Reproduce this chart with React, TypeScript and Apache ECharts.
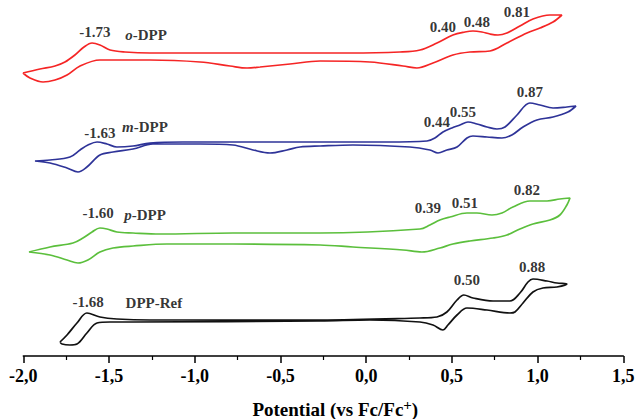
import React, { useEffect, useRef } from "react";
import * as echarts from "echarts";

// Potential (V vs Fc/Fc+) and offset current (a.u.) traced along each closed CV loop
const oDppPotential = [-2.002, -1.903, -1.815, -1.757, -1.699, -1.646, -1.599, -1.553, -1.494, -1.407, -1.261, -0.969, -0.678, -0.386, -0.094, 0.197, 0.314, 0.413, 0.506, 0.576, 0.623, 0.675, 0.722, 0.769, 0.821, 0.897, 0.973, 1.072, 1.142,
  1.09, 1.014, 0.938, 0.821, 0.722, 0.605, 0.506, 0.39, 0.296, 0.215, 0.022, -0.269, -0.444, -0.619, -0.695, -0.794, -0.969, -1.261, -1.553, -1.669, -1.745, -1.815, -1.885, -1.961, -2.002];
const oDppCurrent = [28.3, 28.7, 29.0, 29.4, 30.1, 30.9, 31.3, 31.1, 30.6, 30.4, 30.3, 30.3, 30.3, 30.3, 30.3, 30.4, 30.6, 31.3, 32.1, 32.4, 32.5, 32.4, 32.2, 32.1, 32.3, 33.0, 33.7, 34.1, 34.1,
  33.4, 32.8, 32.3, 31.3, 30.5, 30.4, 30.1, 29.3, 28.8, 29.0, 29.4, 29.5, 29.2, 28.9, 28.8, 29.0, 29.4, 29.6, 29.6, 29.0, 28.1, 27.6, 27.4, 27.8, 28.3];

const mDppPotential = [-1.932, -1.844, -1.728, -1.669, -1.623, -1.57, -1.512, -1.454, -1.36, -1.261, -1.069, -0.678, -0.269, 0.121, 0.355, 0.401, 0.448, 0.5, 0.547, 0.594, 0.646, 0.705, 0.763, 0.81, 0.88, 0.955, 1.014, 1.09, 1.171, 1.224,
  1.177, 1.09, 0.996, 0.915, 0.85, 0.792, 0.705, 0.623, 0.588, 0.53, 0.471, 0.419, 0.372, 0.255, -0.077, -0.269, -0.386, -0.462, -0.561, -0.66, -0.777, -0.969, -1.244, -1.36, -1.477, -1.553, -1.629, -1.681, -1.745, -1.844, -1.932];
const mDppCurrent = [19.5, 19.6, 19.9, 20.6, 21.1, 21.4, 21.2, 20.9, 21.0, 21.3, 21.4, 21.4, 21.4, 21.4, 21.5, 21.8, 22.4, 22.8, 23.1, 23.4, 23.2, 22.9, 22.7, 22.9, 24.1, 25.3, 25.1, 24.8, 24.9, 25.0,
  24.4, 23.9, 23.6, 22.9, 22.1, 21.8, 21.9, 22.0, 21.8, 20.9, 20.6, 20.3, 20.6, 20.9, 21.1, 21.0, 20.9, 20.6, 20.3, 20.6, 21.1, 21.2, 21.2, 20.7, 20.4, 20.1, 18.9, 18.4, 18.8, 19.3, 19.5];

const pDppPotential = [-1.967, -1.844, -1.71, -1.652, -1.599, -1.553, -1.512, -1.454, -1.36, -1.203, -0.777, -0.269, 0.314, 0.372, 0.43, 0.489, 0.588, 0.646, 0.734, 0.792, 0.856, 0.955, 1.055, 1.13, 1.189,
  1.171, 1.13, 1.072, 0.973, 0.897, 0.821, 0.74, 0.605, 0.506, 0.43, 0.325, 0.215, -0.077, -0.269, -0.777, -1.162, -1.36, -1.477, -1.553, -1.623, -1.681, -1.745, -1.844, -1.967];
const pDppCurrent = [10.4, 10.9, 11.3, 11.8, 12.4, 12.8, 12.7, 12.4, 12.3, 12.2, 12.3, 12.3, 12.7, 13.1, 13.6, 13.9, 14.3, 14.3, 14.1, 14.3, 14.9, 15.5, 15.5, 15.7, 15.8,
  15.1, 14.1, 13.6, 13.2, 12.7, 12.1, 11.8, 11.5, 11.2, 10.8, 10.4, 10.6, 10.9, 11.1, 11.2, 11.2, 11.0, 10.8, 10.4, 9.6, 9.3, 9.6, 10.1, 10.4];

const refPotential = [-1.786, -1.745, -1.687, -1.629, -1.553, -1.454, -1.261, -0.269, 0.314, 0.413, 0.471, 0.53, 0.57, 0.623, 0.74, 0.839, 0.897, 0.944, 0.973, 1.055, 1.113, 1.171,
  1.113, 1.031, 0.973, 0.915, 0.868, 0.839, 0.705, 0.588, 0.53, 0.477, 0.448, 0.39, 0.314, 0.022, -0.269, -1.36, -1.494, -1.57, -1.629, -1.687, -1.728, -1.774, -1.786];
const refCurrent = [1.4, 2.1, 3.3, 4.3, 3.9, 3.7, 3.6, 3.6, 3.8, 3.9, 4.4, 5.6, 6.1, 5.8, 5.5, 5.5, 6.3, 7.4, 7.7, 7.5, 7.3, 7.2,
  6.9, 6.8, 6.4, 5.3, 4.4, 4.3, 4.6, 4.8, 4.1, 3.1, 2.6, 3.1, 3.4, 3.6, 3.5, 3.4, 3.4, 3.3, 2.3, 1.2, 1.1, 1.2, 1.4];

// Annotations: [potential, current, text]
const annotations: [number, number, string][] = [
  [-1.582, 32.4, "-1.73"], [-1.284, 32.1, "{i|o}-DPP"], [0.448, 32.9, "0.40"], [0.646, 33.4, "0.48"], [0.879, 34.4, "0.81"],
  [-1.553, 22.3, "-1.63"], [-1.29, 22.9, "{i|m}-DPP"], [0.413, 23.4, "0.44"], [0.564, 24.4, "0.55"], [0.955, 26.4, "0.87"],
  [-1.564, 14.3, "-1.60"], [-1.29, 14.1, "{i|p}-DPP"], [0.36, 14.8, "0.39"], [0.576, 15.3, "0.51"], [0.938, 16.6, "0.82"],
  [-1.622, 5.4, "-1.68"], [-1.238, 5.3, "DPP-Ref"], [0.588, 7.6, "0.50"], [0.968, 8.9, "0.88"],
];

const xTickMin = -2.0;
const xTickMax = 1.5;
const xTickStep = 0.5;

const SERIF = "'Liberation Serif', 'Times New Roman', serif";

function zip(a: number[], b: number[]) {
  return a.map((v, i) => [v, b[i]]);
}

export default function App() {
  const ref = useRef<HTMLDivElement>(null);
  useEffect(() => {
    document.body.style.margin = "0";
    const chart = echarts.init(ref.current!, undefined, { renderer: "svg" });
    const lineSeries = (name: string, color: string, x: number[], y: number[]) => ({
      name,
      type: "line",
      data: zip(x, y),
      showSymbol: false,
      smooth: 0.35,
      lineStyle: { color, width: 1.7 },
      itemStyle: { color },
      z: 2,
    });
    chart.setOption({
      animation: false,
      backgroundColor: "#ffffff",
      grid: { left: 23.3, right: 14.7, top: 0, bottom: 63, containLabel: false, outerBoundsMode: "none" },
      xAxis: {
        type: "value",
        min: xTickMin,
        max: xTickMax,
        interval: xTickStep,
        name: "Potential (vs Fc/Fc{sup|+})",
        nameLocation: "middle",
        nameGap: 41,
        nameTextStyle: {
          fontFamily: SERIF,
          fontWeight: "bold",
          fontSize: 19,
          color: "#000",
          padding: [0, 0, 0, 24],
          rich: {
            sup: { fontFamily: SERIF, fontWeight: "bold", fontSize: 15, color: "#000", verticalAlign: "top", padding: [0, 0, 10, 0] },
          },
        },
        axisLine: { show: true, onZero: false, lineStyle: { color: "#000", width: 1.5 } },
        axisTick: { show: true, length: 7, lineStyle: { color: "#000", width: 1.5 } },
        minorTick: { show: true, splitNumber: 2, length: 4, lineStyle: { color: "#000", width: 1.2 } },
        splitLine: { show: false },
        axisLabel: {
          margin: 11,
          fontFamily: SERIF,
          fontWeight: "bold",
          fontSize: 18,
          color: "#000",
          formatter: (v: number) => v.toFixed(1).replace(".", ","),
        },
      },
      yAxis: { type: "value", min: 0, max: 35.6, show: false, splitLine: { show: false } },
      series: [
        lineSeries("o-DPP", "#f52525", oDppPotential, oDppCurrent),
        lineSeries("m-DPP", "#2e3398", mDppPotential, mDppCurrent),
        lineSeries("p-DPP", "#5bbf3c", pDppPotential, pDppCurrent),
        lineSeries("DPP-Ref", "#111111", refPotential, refCurrent),
        {
          type: "scatter",
          symbolSize: 0,
          z: 5,
          silent: true,
          data: annotations.map((a) => ({ value: [a[0], a[1]], name: a[2] })),
          label: {
            show: true,
            position: [0, 0],
            align: "center",
            verticalAlign: "middle",
            formatter: (p: any) => p.name,
            fontFamily: SERIF,
            fontWeight: "bold",
            fontSize: 15,
            color: "#000",
            textBorderWidth: 0,
            rich: { i: { fontFamily: SERIF, fontWeight: "bold", fontStyle: "italic", fontSize: 15, color: "#000", textBorderWidth: 0 } },
          },
          emphasis: { disabled: true },
        },
      ],
    });
    return () => chart.dispose();
  }, []);
  return <div ref={ref} style={{ position: "fixed", left: 0, top: 0, width: 638, height: 419, background: "#fff" }} />;
}
